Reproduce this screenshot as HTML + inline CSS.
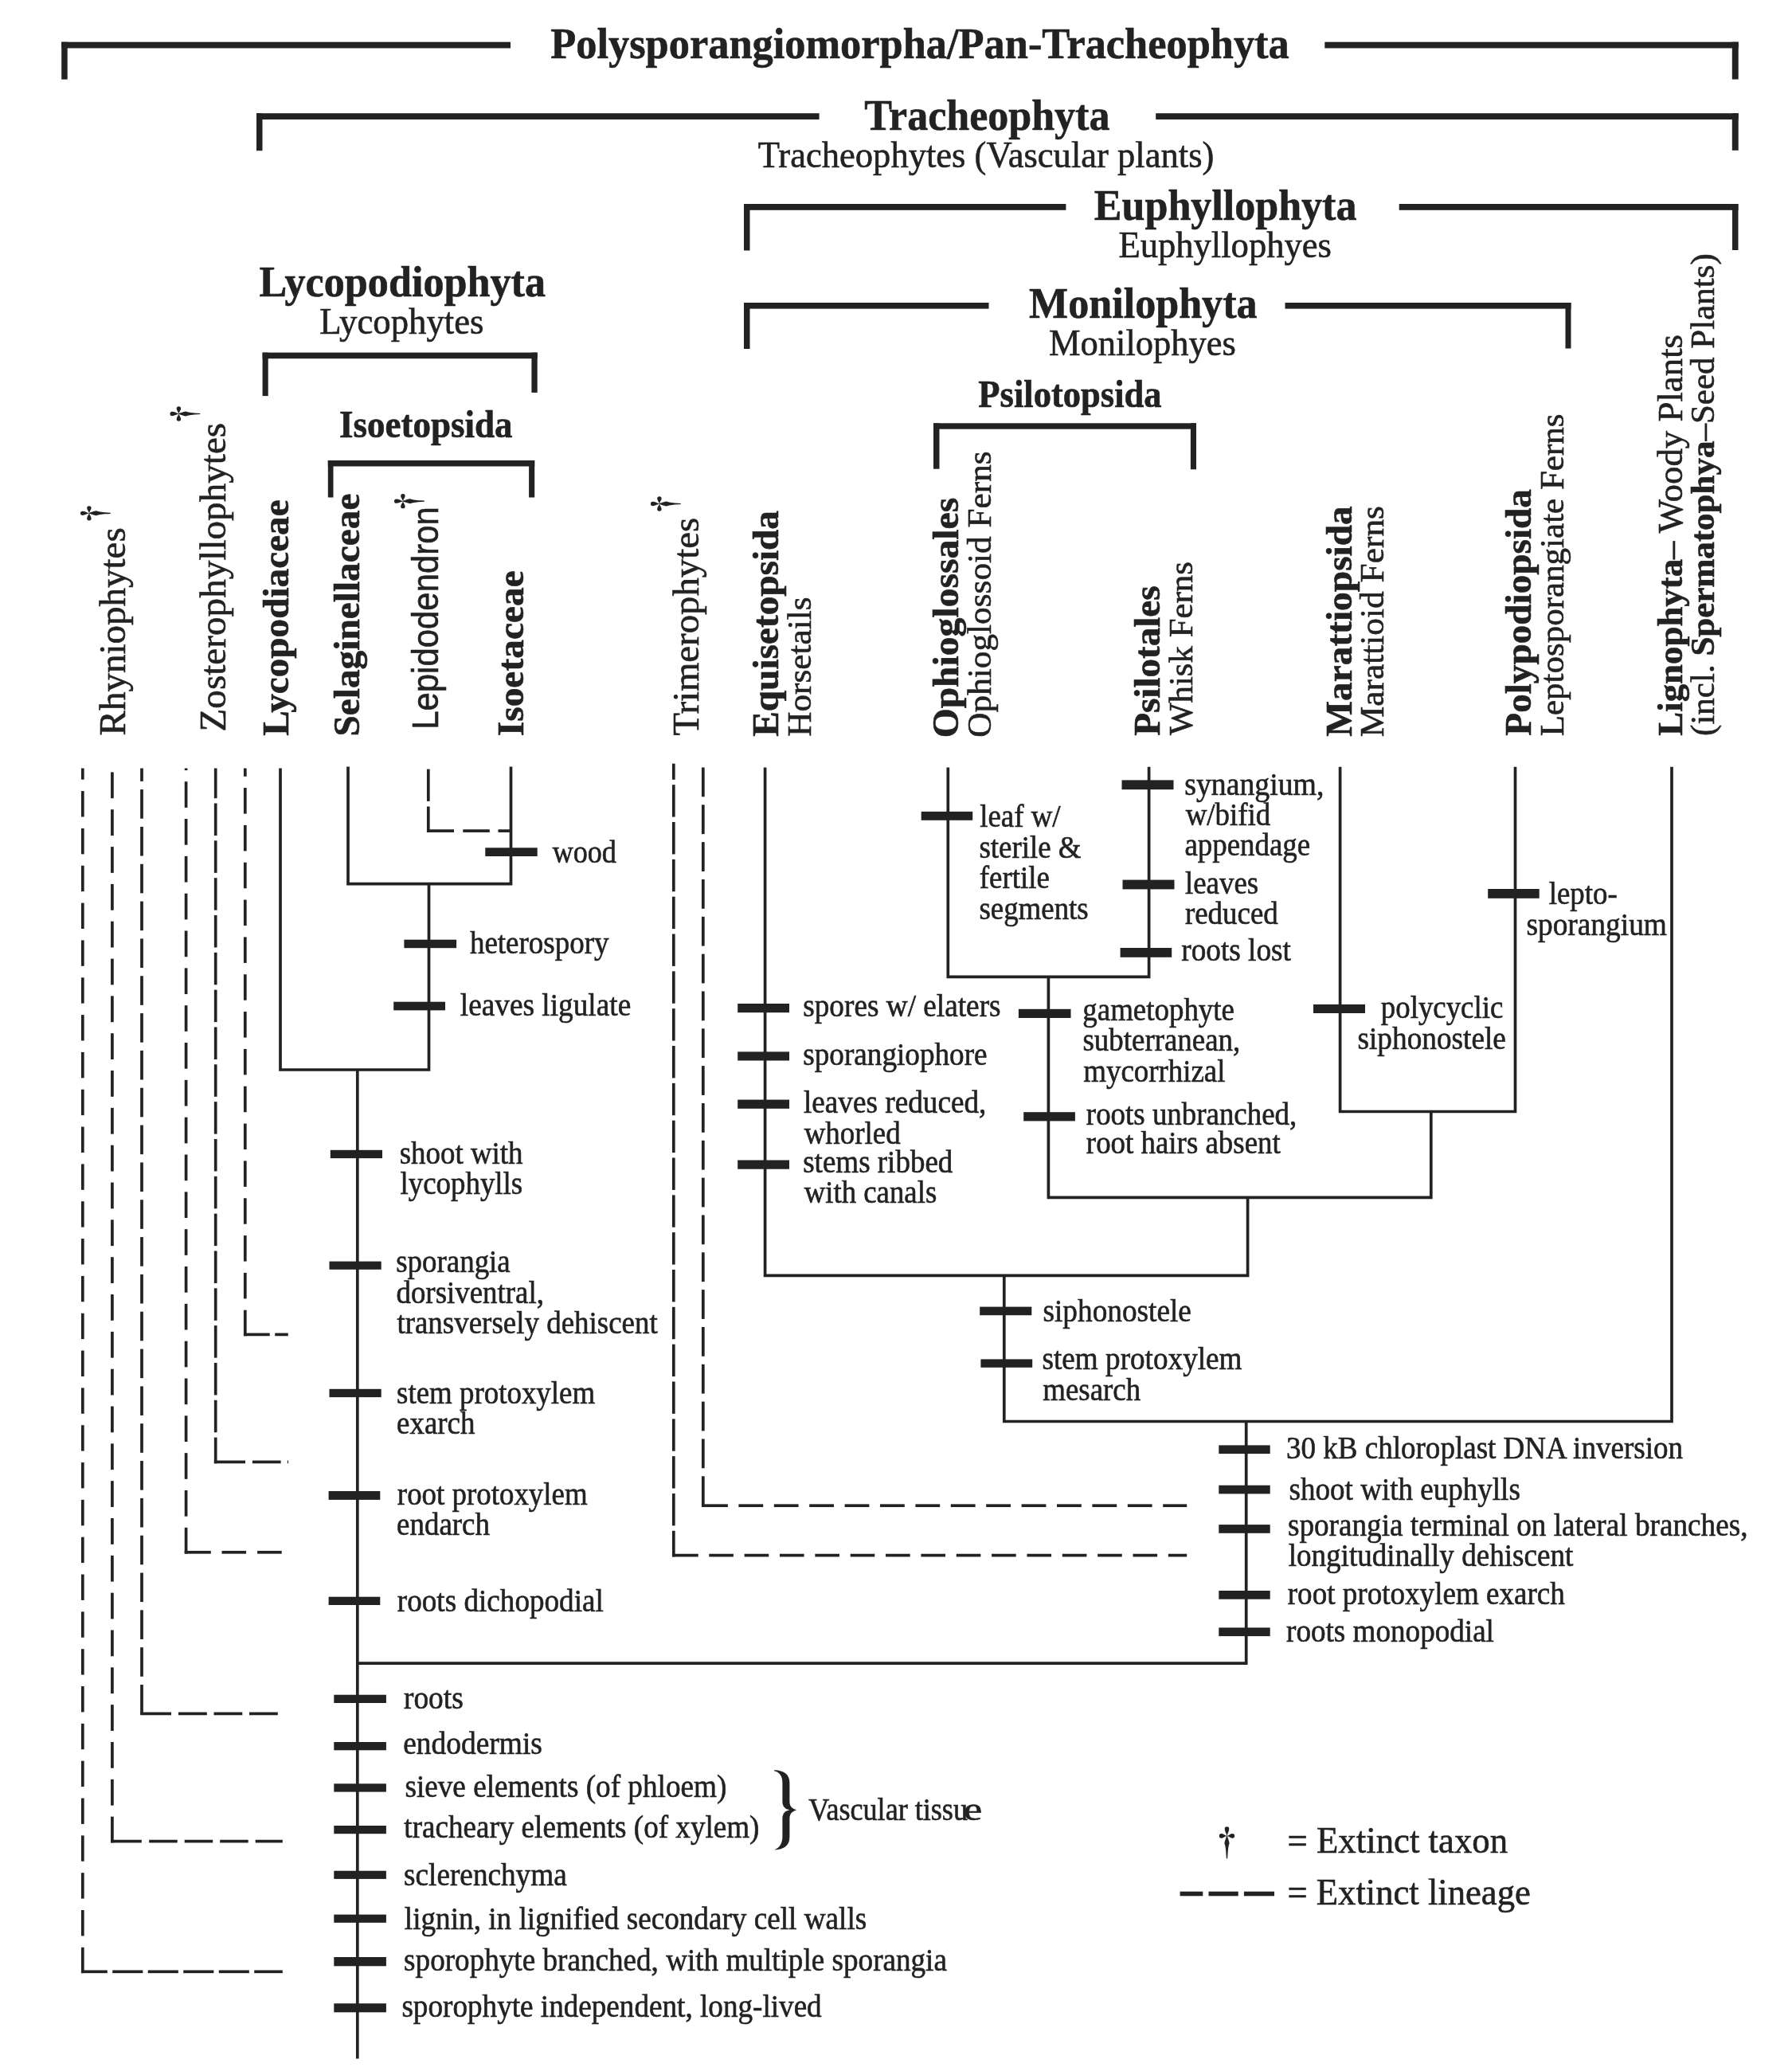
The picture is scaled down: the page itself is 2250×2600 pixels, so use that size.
<!DOCTYPE html>
<html><head><meta charset="utf-8"><title>Tracheophyte cladogram</title>
<style>
html,body{margin:0;padding:0;background:#fff;}
body{width:2250px;height:2600px;overflow:hidden;}
svg{display:block;filter:grayscale(1);}
text{font-family:"Liberation Serif",serif;fill:#222;stroke:#222;stroke-width:0.6px;}
</style></head><body>
<svg width="2250" height="2600" viewBox="0 0 2250 2600">
<defs><symbol id="dg" overflow="visible"><g><path d="M0,0 C-0.6,-2.5 -2.7,-5.5 -2.7,-8.5 A2.7,2.7 0 0 1 2.7,-8.5 C2.7,-5.5 0.6,-2.5 0,0 Z"/><path d="M0,0 C-2.5,-0.6 -4.5,-2.8 -6.6,-2.8 A2.8,2.8 0 0 0 -6.6,2.8 C-4.5,2.8 -2.5,0.6 0,0 Z"/><path d="M0,0 C2.5,-0.6 4.5,-2.8 6.6,-2.8 A2.8,2.8 0 0 1 6.6,2.8 C4.5,2.8 2.5,0.6 0,0 Z"/><path d="M-0.5,0 C-0.8,2 -2.6,6 -3.0,9 C-2.7,10.5 -2.2,11.5 -2.0,12.5 L-1.5,16 L-1.1,20 L-0.85,24 L-0.6,27.2 A0.6,0.6 0 0 0 0.6,27.2 L0.85,24 L1.1,20 L1.5,16 L2.0,12.5 C2.2,11.5 2.7,10.5 3.0,9 C2.6,6 0.8,2 0.5,0 Z"/></g></symbol></defs>
<rect width="2250" height="2600" fill="#fff"/>
<g fill="#222">
<rect x="77.2" y="52.7" width="7.5" height="47.0"/>
<rect x="2174.8" y="52.7" width="7.9" height="46.9"/>
<rect x="77.2" y="52.7" width="563.8" height="7.8"/>
<rect x="1663.3" y="52.7" width="519.4" height="7.8"/>
<text x="691.31" y="72.70" font-size="55.5" font-weight="bold" textLength="927.46" lengthAdjust="spacingAndGlyphs">Polysporangiomorpha/Pan-Tracheophyta</text>
<rect x="322.0" y="142.2" width="7.5" height="47.0"/>
<rect x="2174.8" y="142.2" width="7.9" height="46.6"/>
<rect x="322.0" y="142.2" width="706.6" height="7.8"/>
<rect x="1451.2" y="142.2" width="731.5" height="7.8"/>
<text x="1085.22" y="163.20" font-size="55.5" font-weight="bold" textLength="308.21" lengthAdjust="spacingAndGlyphs">Tracheophyta</text>
<text x="951.71" y="209.60" font-size="46.5" textLength="572.63" lengthAdjust="spacingAndGlyphs">Tracheophytes (Vascular plants)</text>
<rect x="934.0" y="256.0" width="7.5" height="58.5"/>
<rect x="2175.0" y="256.0" width="7.5" height="58.0"/>
<rect x="934.0" y="256.0" width="404.4" height="7.8"/>
<rect x="1756.7" y="256.0" width="425.8" height="7.8"/>
<text x="1373.82" y="275.90" font-size="55.5" font-weight="bold" textLength="329.64" lengthAdjust="spacingAndGlyphs">Euphyllophyta</text>
<text x="1404.46" y="322.80" font-size="46.5" textLength="267.47" lengthAdjust="spacingAndGlyphs">Euphyllophyes</text>
<rect x="934.0" y="380.0" width="7.5" height="58.0"/>
<rect x="1965.5" y="380.0" width="7.0" height="57.5"/>
<rect x="934.0" y="380.0" width="307.5" height="7.6"/>
<rect x="1613.5" y="380.0" width="359.0" height="7.6"/>
<text x="1292.12" y="399.10" font-size="55.5" font-weight="bold" textLength="286.41" lengthAdjust="spacingAndGlyphs">Monilophyta</text>
<text x="1316.96" y="446.40" font-size="46.5" textLength="234.89" lengthAdjust="spacingAndGlyphs">Monilophyes</text>
<text x="325.62" y="371.60" font-size="55.5" font-weight="bold" textLength="359.43" lengthAdjust="spacingAndGlyphs">Lycopodiophyta</text>
<text x="401.16" y="419.30" font-size="46.5" textLength="206.32" lengthAdjust="spacingAndGlyphs">Lycophytes</text>
<rect x="329.6" y="442.6" width="7.1" height="54.5"/>
<rect x="667.4" y="442.6" width="7.3" height="50.3"/>
<rect x="329.6" y="442.6" width="345.1" height="7.6"/>
<text x="426.03" y="548.60" font-size="47.5" font-weight="bold" textLength="217.42" lengthAdjust="spacingAndGlyphs">Isoetopsida</text>
<rect x="411.8" y="578.0" width="6.7" height="46.5"/>
<rect x="664.1" y="578.0" width="7.1" height="46.5"/>
<rect x="411.8" y="578.0" width="259.4" height="7.5"/>
<text x="1228.33" y="511.00" font-size="47.5" font-weight="bold" textLength="230.25" lengthAdjust="spacingAndGlyphs">Psilotopsida</text>
<rect x="1172.0" y="531.3" width="7.5" height="57.4"/>
<rect x="1494.9" y="531.3" width="7.1" height="58.0"/>
<rect x="1172.0" y="531.3" width="330.0" height="7.4"/>
<text x="-1.41" y="0" transform="translate(156.90,922.00) rotate(-90)" font-size="46.4" textLength="261.08" lengthAdjust="spacingAndGlyphs">Rhyniophytes</text>
<text x="-2.12" y="0" transform="translate(282.80,916.40) rotate(-90)" font-size="46.7" textLength="387.72" lengthAdjust="spacingAndGlyphs">Zosterophyllophytes</text>
<text x="-0.71" y="0" transform="translate(361.60,923.00) rotate(-90)" font-size="46.9" font-weight="bold" textLength="296.36" lengthAdjust="spacingAndGlyphs">Lycopodiaceae</text>
<text x="-2.60" y="0" transform="translate(450.90,922.00) rotate(-90)" font-size="46.8" font-weight="bold" textLength="305.08" lengthAdjust="spacingAndGlyphs">Selaginellaceae</text>
<text x="-3.35" y="0" transform="translate(549.60,912.50) rotate(-90)" font-size="47.0" style="font-family:'Liberation Sans',sans-serif" textLength="279.71" lengthAdjust="spacingAndGlyphs">Lepidodendron</text>
<text x="-1.66" y="0" transform="translate(657.10,922.60) rotate(-90)" font-size="46.8" font-weight="bold" textLength="207.99" lengthAdjust="spacingAndGlyphs">Isoetaceae</text>
<text x="-0.94" y="0" transform="translate(876.50,922.60) rotate(-90)" font-size="46.3" textLength="273.63" lengthAdjust="spacingAndGlyphs">Trimerophytes</text>
<text x="-0.71" y="0" transform="translate(976.70,924.00) rotate(-90)" font-size="47.0" font-weight="bold" textLength="283.70" lengthAdjust="spacingAndGlyphs">Equisetopsida</text>
<text x="-1.30" y="0" transform="translate(1017.50,923.50) rotate(-90)" font-size="42.5" textLength="175.29" lengthAdjust="spacingAndGlyphs">Horsetails</text>
<text x="-2.38" y="0" transform="translate(1202.80,924.00) rotate(-90)" font-size="47.0" font-weight="bold" textLength="301.56" lengthAdjust="spacingAndGlyphs">Ophioglossales</text>
<text x="-1.73" y="0" transform="translate(1244.10,924.00) rotate(-90)" font-size="42.9" textLength="359.39" lengthAdjust="spacingAndGlyphs">Ophioglossoid Ferns</text>
<text x="-0.71" y="0" transform="translate(1456.20,923.00) rotate(-90)" font-size="46.6" font-weight="bold" textLength="188.26" lengthAdjust="spacingAndGlyphs">Psilotales</text>
<text x="0.00" y="0" transform="translate(1496.70,923.00) rotate(-90)" font-size="42.6" textLength="217.91" lengthAdjust="spacingAndGlyphs">Whisk Ferns</text>
<text x="-0.71" y="0" transform="translate(1697.20,924.00) rotate(-90)" font-size="47.2" font-weight="bold" textLength="289.46" lengthAdjust="spacingAndGlyphs">Marattiopsida</text>
<text x="-1.30" y="0" transform="translate(1736.90,924.00) rotate(-90)" font-size="43.0" textLength="290.24" lengthAdjust="spacingAndGlyphs">Marattioid Ferns</text>
<text x="-0.71" y="0" transform="translate(1921.50,923.00) rotate(-90)" font-size="47.2" font-weight="bold" textLength="309.63" lengthAdjust="spacingAndGlyphs">Polypodiopsida</text>
<text x="-1.29" y="0" transform="translate(1962.70,923.00) rotate(-90)" font-size="42.9" textLength="404.75" lengthAdjust="spacingAndGlyphs">Leptosporangiate Ferns</text>
<text x="-0.67" y="0" transform="translate(2111.50,923.00) rotate(-90)" font-size="44.6" textLength="503.76" lengthAdjust="spacingAndGlyphs"><tspan font-weight="bold">Lignophyta</tspan>– Woody Plants</text>
<text x="-1.94" y="0" transform="translate(2151.70,922.00) rotate(-90)" font-size="42.7" textLength="605.73" lengthAdjust="spacingAndGlyphs">(incl. <tspan font-weight="bold">Spermatophya</tspan>–Seed Plants)</text>
<text x="693.70" y="1082.50" font-size="39.0" textLength="80.24" lengthAdjust="spacingAndGlyphs">wood</text>
<text x="589.93" y="1197.00" font-size="39.0" textLength="174.58" lengthAdjust="spacingAndGlyphs">heterospory</text>
<text x="577.85" y="1275.00" font-size="39.0" textLength="214.35" lengthAdjust="spacingAndGlyphs">leaves ligulate</text>
<text x="501.72" y="1461.10" font-size="39.0" textLength="154.79" lengthAdjust="spacingAndGlyphs">shoot with</text>
<text x="502.46" y="1499.45" font-size="39.0" textLength="153.74" lengthAdjust="spacingAndGlyphs">lycophylls</text>
<text x="497.27" y="1597.20" font-size="39.0" textLength="143.45" lengthAdjust="spacingAndGlyphs">sporangia</text>
<text x="497.46" y="1636.10" font-size="39.0" textLength="185.47" lengthAdjust="spacingAndGlyphs">dorsiventral,</text>
<text x="498.38" y="1674.00" font-size="39.0" textLength="327.41" lengthAdjust="spacingAndGlyphs">transversely dehiscent</text>
<text x="498.12" y="1762.40" font-size="39.0" textLength="249.03" lengthAdjust="spacingAndGlyphs">stem protoxylem</text>
<text x="498.12" y="1800.10" font-size="39.0" textLength="98.32" lengthAdjust="spacingAndGlyphs">exarch</text>
<text x="498.86" y="1889.40" font-size="39.0" textLength="238.79" lengthAdjust="spacingAndGlyphs">root protoxylem</text>
<text x="498.12" y="1927.30" font-size="39.0" textLength="116.77" lengthAdjust="spacingAndGlyphs">endarch</text>
<text x="498.86" y="2022.80" font-size="39.0" textLength="258.94" lengthAdjust="spacingAndGlyphs">roots dichopodial</text>
<text x="506.95" y="2145.30" font-size="39.0" textLength="74.76" lengthAdjust="spacingAndGlyphs">roots</text>
<text x="506.20" y="2202.00" font-size="39.0" textLength="174.73" lengthAdjust="spacingAndGlyphs">endodermis</text>
<text x="508.41" y="2255.60" font-size="39.0" textLength="403.96" lengthAdjust="spacingAndGlyphs">sieve elements (of phloem)</text>
<text x="507.33" y="2307.40" font-size="39.0" textLength="446.13" lengthAdjust="spacingAndGlyphs">tracheary elements (of xylem)</text>
<text x="507.11" y="2367.20" font-size="39.0" textLength="204.58" lengthAdjust="spacingAndGlyphs">sclerenchyma</text>
<text x="507.86" y="2422.10" font-size="39.0" textLength="580.34" lengthAdjust="spacingAndGlyphs">lignin, in lignified secondary cell walls</text>
<text x="507.11" y="2473.50" font-size="39.0" textLength="681.82" lengthAdjust="spacingAndGlyphs">sporophyte branched, with multiple sporangia</text>
<text x="504.41" y="2531.50" font-size="39.0" textLength="527.30" lengthAdjust="spacingAndGlyphs">sporophyte independent, long-lived</text>
<text x="1015.34" y="2284.70" font-size="39.0" textLength="199.67" lengthAdjust="spacingAndGlyphs">Vascular tissu</text>
<text x="1209.91" y="2284.70" font-size="39.0" textLength="23.15" lengthAdjust="spacingAndGlyphs">e</text>
<text x="1008.21" y="1276.20" font-size="39.0" textLength="248.37" lengthAdjust="spacingAndGlyphs">spores w/ elaters</text>
<text x="1008.21" y="1336.70" font-size="39.0" textLength="231.42" lengthAdjust="spacingAndGlyphs">sporangiophore</text>
<text x="1008.96" y="1396.95" font-size="39.0" textLength="229.39" lengthAdjust="spacingAndGlyphs">leaves reduced,</text>
<text x="1009.70" y="1435.80" font-size="39.0" textLength="120.92" lengthAdjust="spacingAndGlyphs">whorled</text>
<text x="1008.22" y="1471.95" font-size="39.0" textLength="188.14" lengthAdjust="spacingAndGlyphs">stems ribbed</text>
<text x="1009.70" y="1509.90" font-size="39.0" textLength="166.53" lengthAdjust="spacingAndGlyphs">with canals</text>
<text x="1230.16" y="1037.60" font-size="39.0" textLength="101.42" lengthAdjust="spacingAndGlyphs">leaf w/</text>
<text x="1229.42" y="1076.60" font-size="39.0" textLength="128.08" lengthAdjust="spacingAndGlyphs">sterile &amp;</text>
<text x="1229.79" y="1115.30" font-size="39.0" textLength="88.09" lengthAdjust="spacingAndGlyphs">fertile</text>
<text x="1229.42" y="1154.40" font-size="39.0" textLength="137.33" lengthAdjust="spacingAndGlyphs">segments</text>
<text x="1487.19" y="997.60" font-size="39.0" textLength="175.21" lengthAdjust="spacingAndGlyphs">synangium,</text>
<text x="1488.70" y="1035.60" font-size="39.0" textLength="106.59" lengthAdjust="spacingAndGlyphs">w/bifid</text>
<text x="1487.41" y="1073.50" font-size="39.0" textLength="157.76" lengthAdjust="spacingAndGlyphs">appendage</text>
<text x="1487.96" y="1122.30" font-size="39.0" textLength="92.19" lengthAdjust="spacingAndGlyphs">leaves</text>
<text x="1487.96" y="1160.30" font-size="39.0" textLength="116.77" lengthAdjust="spacingAndGlyphs">reduced</text>
<text x="1483.26" y="1206.30" font-size="39.0" textLength="137.61" lengthAdjust="spacingAndGlyphs">roots lost</text>
<text x="1359.34" y="1280.90" font-size="39.0" textLength="190.59" lengthAdjust="spacingAndGlyphs">gametophyte</text>
<text x="1359.52" y="1318.80" font-size="39.0" textLength="197.72" lengthAdjust="spacingAndGlyphs">subterranean,</text>
<text x="1360.26" y="1357.70" font-size="39.0" textLength="178.26" lengthAdjust="spacingAndGlyphs">mycorrhizal</text>
<text x="1363.86" y="1411.70" font-size="39.0" textLength="264.37" lengthAdjust="spacingAndGlyphs">roots unbranched,</text>
<text x="1363.86" y="1448.30" font-size="39.0" textLength="243.88" lengthAdjust="spacingAndGlyphs">root hairs absent</text>
<text x="1733.85" y="1278.40" font-size="39.0" textLength="153.46" lengthAdjust="spacingAndGlyphs">polycyclic</text>
<text x="1704.51" y="1316.70" font-size="39.0" textLength="186.37" lengthAdjust="spacingAndGlyphs">siphonostele</text>
<text x="1944.66" y="1135.10" font-size="39.0" textLength="86.07" lengthAdjust="spacingAndGlyphs">lepto-</text>
<text x="1916.40" y="1174.00" font-size="39.0" textLength="176.53" lengthAdjust="spacingAndGlyphs">sporangium</text>
<text x="1309.51" y="1658.80" font-size="39.0" textLength="186.37" lengthAdjust="spacingAndGlyphs">siphonostele</text>
<text x="1308.51" y="1718.90" font-size="39.0" textLength="251.00" lengthAdjust="spacingAndGlyphs">stem protoxylem</text>
<text x="1309.26" y="1758.00" font-size="39.0" textLength="122.85" lengthAdjust="spacingAndGlyphs">mesarch</text>
<text x="1614.93" y="1831.00" font-size="39.0" textLength="498.06" lengthAdjust="spacingAndGlyphs">30 kB chloroplast DNA inversion</text>
<text x="1618.62" y="1882.50" font-size="39.0" textLength="290.22" lengthAdjust="spacingAndGlyphs">shoot with euphylls</text>
<text x="1616.91" y="1928.10" font-size="39.0" textLength="577.55" lengthAdjust="spacingAndGlyphs">sporangia terminal on lateral branches,</text>
<text x="1617.66" y="1966.30" font-size="39.0" textLength="357.60" lengthAdjust="spacingAndGlyphs">longitudinally dehiscent</text>
<text x="1616.76" y="2014.00" font-size="39.0" textLength="348.12" lengthAdjust="spacingAndGlyphs">root protoxylem exarch</text>
<text x="1615.06" y="2061.30" font-size="39.0" textLength="260.88" lengthAdjust="spacingAndGlyphs">roots monopodial</text>
<text x="1616.51" y="2325.60" font-size="46.0" textLength="276.61" lengthAdjust="spacingAndGlyphs">= Extinct taxon</text>
<text x="1616.52" y="2390.60" font-size="46.0" textLength="305.31" lengthAdjust="spacingAndGlyphs">= Extinct lineage</text>
</g>
<g fill="none" stroke="#222" stroke-width="3.7" stroke-linejoin="miter" stroke-linecap="butt">
<path d="M352.0,964.6 L352.0,1343.0 L538.5,1343.0 L538.5,1109.6"/>
<path d="M437.0,962.4 L437.0,1109.6 L641.5,1109.6 L641.5,962.4"/>
<path d="M448.8,1343.0 L448.8,2584.4"/>
<path d="M448.8,2088.2 L1564.7,2088.2 L1564.7,1784.5"/>
<path d="M1260.8,1601.4 L1260.8,1784.5 L2099.0,1784.5 L2099.0,962.8"/>
<path d="M960.6,963.4 L960.6,1601.4 L1566.6,1601.4 L1566.6,1503.3"/>
<path d="M1316.4,1226.3 L1316.4,1503.3 L1796.8,1503.3 L1796.8,1395.5"/>
<path d="M1190.3,963.4 L1190.3,1226.3 L1442.6,1226.3 L1442.6,962.8"/>
<path d="M1682.6,962.8 L1682.6,1395.5 L1902.5,1395.5 L1902.5,962.8"/>
</g>
<g fill="#222">
<rect x="101.95" y="964.50" width="3.7" height="14.17"/>
<rect x="101.95" y="993.10" width="3.7" height="32.40"/>
<rect x="101.95" y="1039.93" width="3.7" height="32.40"/>
<rect x="101.95" y="1086.76" width="3.7" height="32.40"/>
<rect x="101.95" y="1133.59" width="3.7" height="32.40"/>
<rect x="101.95" y="1180.42" width="3.7" height="32.40"/>
<rect x="101.95" y="1227.25" width="3.7" height="32.40"/>
<rect x="101.95" y="1274.08" width="3.7" height="32.40"/>
<rect x="101.95" y="1320.91" width="3.7" height="32.40"/>
<rect x="101.95" y="1367.74" width="3.7" height="32.40"/>
<rect x="101.95" y="1414.57" width="3.7" height="32.40"/>
<rect x="101.95" y="1461.40" width="3.7" height="32.40"/>
<rect x="101.95" y="1508.23" width="3.7" height="32.40"/>
<rect x="101.95" y="1555.06" width="3.7" height="32.40"/>
<rect x="101.95" y="1601.89" width="3.7" height="32.40"/>
<rect x="101.95" y="1648.72" width="3.7" height="32.40"/>
<rect x="101.95" y="1695.55" width="3.7" height="32.40"/>
<rect x="101.95" y="1742.38" width="3.7" height="32.40"/>
<rect x="101.95" y="1789.21" width="3.7" height="32.40"/>
<rect x="101.95" y="1836.04" width="3.7" height="32.40"/>
<rect x="101.95" y="1882.87" width="3.7" height="32.40"/>
<rect x="101.95" y="1929.70" width="3.7" height="32.40"/>
<rect x="101.95" y="1976.53" width="3.7" height="32.40"/>
<rect x="101.95" y="2023.36" width="3.7" height="32.40"/>
<rect x="101.95" y="2070.19" width="3.7" height="32.40"/>
<rect x="101.95" y="2117.02" width="3.7" height="32.40"/>
<rect x="101.95" y="2163.85" width="3.7" height="32.40"/>
<rect x="101.95" y="2210.68" width="3.7" height="32.40"/>
<rect x="101.95" y="2257.51" width="3.7" height="32.40"/>
<rect x="101.95" y="2304.34" width="3.7" height="32.40"/>
<rect x="101.95" y="2351.17" width="3.7" height="32.40"/>
<rect x="101.95" y="2398.00" width="3.7" height="32.40"/>
<rect x="101.95" y="2444.83" width="3.7" height="32.32"/>
<rect x="101.95" y="2473.45" width="32.85" height="3.7"/>
<rect x="141.25" y="2473.45" width="38.10" height="3.7"/>
<rect x="185.75" y="2473.45" width="38.10" height="3.7"/>
<rect x="230.25" y="2473.45" width="38.10" height="3.7"/>
<rect x="274.75" y="2473.45" width="38.10" height="3.7"/>
<rect x="319.25" y="2473.45" width="35.55" height="3.7"/>
<rect x="139.05" y="969.40" width="3.7" height="32.80"/>
<rect x="139.05" y="1016.23" width="3.7" height="32.80"/>
<rect x="139.05" y="1063.06" width="3.7" height="32.80"/>
<rect x="139.05" y="1109.89" width="3.7" height="32.80"/>
<rect x="139.05" y="1156.72" width="3.7" height="32.80"/>
<rect x="139.05" y="1203.55" width="3.7" height="32.80"/>
<rect x="139.05" y="1250.38" width="3.7" height="32.80"/>
<rect x="139.05" y="1297.21" width="3.7" height="32.80"/>
<rect x="139.05" y="1344.04" width="3.7" height="32.80"/>
<rect x="139.05" y="1390.87" width="3.7" height="32.80"/>
<rect x="139.05" y="1437.70" width="3.7" height="32.80"/>
<rect x="139.05" y="1484.53" width="3.7" height="32.80"/>
<rect x="139.05" y="1531.36" width="3.7" height="32.80"/>
<rect x="139.05" y="1578.19" width="3.7" height="32.80"/>
<rect x="139.05" y="1625.02" width="3.7" height="32.80"/>
<rect x="139.05" y="1671.85" width="3.7" height="32.80"/>
<rect x="139.05" y="1718.68" width="3.7" height="32.80"/>
<rect x="139.05" y="1765.51" width="3.7" height="32.80"/>
<rect x="139.05" y="1812.34" width="3.7" height="32.80"/>
<rect x="139.05" y="1859.17" width="3.7" height="32.80"/>
<rect x="139.05" y="1906.00" width="3.7" height="32.80"/>
<rect x="139.05" y="1952.83" width="3.7" height="32.80"/>
<rect x="139.05" y="1999.66" width="3.7" height="32.80"/>
<rect x="139.05" y="2046.49" width="3.7" height="32.80"/>
<rect x="139.05" y="2093.32" width="3.7" height="32.80"/>
<rect x="139.05" y="2140.15" width="3.7" height="32.80"/>
<rect x="139.05" y="2186.98" width="3.7" height="32.80"/>
<rect x="139.05" y="2233.81" width="3.7" height="32.80"/>
<rect x="139.05" y="2280.64" width="3.7" height="32.80"/>
<rect x="139.05" y="2309.75" width="38.75" height="3.7"/>
<rect x="187.20" y="2309.75" width="35.50" height="3.7"/>
<rect x="231.70" y="2309.75" width="35.50" height="3.7"/>
<rect x="276.20" y="2309.75" width="35.50" height="3.7"/>
<rect x="320.70" y="2309.75" width="34.10" height="3.7"/>
<rect x="176.15" y="964.50" width="3.7" height="16.37"/>
<rect x="176.15" y="991.10" width="3.7" height="36.60"/>
<rect x="176.15" y="1037.93" width="3.7" height="36.60"/>
<rect x="176.15" y="1084.76" width="3.7" height="36.60"/>
<rect x="176.15" y="1131.59" width="3.7" height="36.60"/>
<rect x="176.15" y="1178.42" width="3.7" height="36.60"/>
<rect x="176.15" y="1225.25" width="3.7" height="36.60"/>
<rect x="176.15" y="1272.08" width="3.7" height="36.60"/>
<rect x="176.15" y="1318.91" width="3.7" height="36.60"/>
<rect x="176.15" y="1365.74" width="3.7" height="36.60"/>
<rect x="176.15" y="1412.57" width="3.7" height="36.60"/>
<rect x="176.15" y="1459.40" width="3.7" height="36.60"/>
<rect x="176.15" y="1506.23" width="3.7" height="36.60"/>
<rect x="176.15" y="1553.06" width="3.7" height="36.60"/>
<rect x="176.15" y="1599.89" width="3.7" height="36.60"/>
<rect x="176.15" y="1646.72" width="3.7" height="36.60"/>
<rect x="176.15" y="1693.55" width="3.7" height="36.60"/>
<rect x="176.15" y="1740.38" width="3.7" height="36.60"/>
<rect x="176.15" y="1787.21" width="3.7" height="36.60"/>
<rect x="176.15" y="1834.04" width="3.7" height="36.60"/>
<rect x="176.15" y="1880.87" width="3.7" height="36.60"/>
<rect x="176.15" y="1927.70" width="3.7" height="36.60"/>
<rect x="176.15" y="1974.53" width="3.7" height="36.60"/>
<rect x="176.15" y="2021.36" width="3.7" height="36.60"/>
<rect x="176.15" y="2068.19" width="3.7" height="36.60"/>
<rect x="176.15" y="2115.02" width="3.7" height="36.60"/>
<rect x="176.15" y="2149.55" width="38.85" height="3.7"/>
<rect x="224.00" y="2149.55" width="35.80" height="3.7"/>
<rect x="268.50" y="2149.55" width="35.80" height="3.7"/>
<rect x="313.00" y="2149.55" width="35.80" height="3.7"/>
<rect x="231.75" y="964.50" width="3.7" height="2.57"/>
<rect x="231.75" y="981.20" width="3.7" height="32.70"/>
<rect x="231.75" y="1028.03" width="3.7" height="32.70"/>
<rect x="231.75" y="1074.86" width="3.7" height="32.70"/>
<rect x="231.75" y="1121.69" width="3.7" height="32.70"/>
<rect x="231.75" y="1168.52" width="3.7" height="32.70"/>
<rect x="231.75" y="1215.35" width="3.7" height="32.70"/>
<rect x="231.75" y="1262.18" width="3.7" height="32.70"/>
<rect x="231.75" y="1309.01" width="3.7" height="32.70"/>
<rect x="231.75" y="1355.84" width="3.7" height="32.70"/>
<rect x="231.75" y="1402.67" width="3.7" height="32.70"/>
<rect x="231.75" y="1449.50" width="3.7" height="32.70"/>
<rect x="231.75" y="1496.33" width="3.7" height="32.70"/>
<rect x="231.75" y="1543.16" width="3.7" height="32.70"/>
<rect x="231.75" y="1589.99" width="3.7" height="32.70"/>
<rect x="231.75" y="1636.82" width="3.7" height="32.70"/>
<rect x="231.75" y="1683.65" width="3.7" height="32.70"/>
<rect x="231.75" y="1730.48" width="3.7" height="32.70"/>
<rect x="231.75" y="1777.31" width="3.7" height="32.70"/>
<rect x="231.75" y="1824.14" width="3.7" height="32.70"/>
<rect x="231.75" y="1870.97" width="3.7" height="32.70"/>
<rect x="231.75" y="1917.80" width="3.7" height="32.70"/>
<rect x="231.75" y="1946.95" width="33.05" height="3.7"/>
<rect x="278.50" y="1946.95" width="30.60" height="3.7"/>
<rect x="323.10" y="1946.95" width="30.60" height="3.7"/>
<rect x="268.85" y="964.50" width="3.7" height="37.67"/>
<rect x="268.85" y="1008.50" width="3.7" height="40.50"/>
<rect x="268.85" y="1055.33" width="3.7" height="40.50"/>
<rect x="268.85" y="1102.16" width="3.7" height="40.50"/>
<rect x="268.85" y="1148.99" width="3.7" height="40.50"/>
<rect x="268.85" y="1195.82" width="3.7" height="40.50"/>
<rect x="268.85" y="1242.65" width="3.7" height="40.50"/>
<rect x="268.85" y="1289.48" width="3.7" height="40.50"/>
<rect x="268.85" y="1336.31" width="3.7" height="40.50"/>
<rect x="268.85" y="1383.14" width="3.7" height="40.50"/>
<rect x="268.85" y="1429.97" width="3.7" height="40.50"/>
<rect x="268.85" y="1476.80" width="3.7" height="40.50"/>
<rect x="268.85" y="1523.63" width="3.7" height="40.50"/>
<rect x="268.85" y="1570.46" width="3.7" height="40.50"/>
<rect x="268.85" y="1617.29" width="3.7" height="40.50"/>
<rect x="268.85" y="1664.12" width="3.7" height="40.50"/>
<rect x="268.85" y="1710.95" width="3.7" height="40.50"/>
<rect x="268.85" y="1757.78" width="3.7" height="40.50"/>
<rect x="268.85" y="1804.61" width="3.7" height="32.64"/>
<rect x="268.85" y="1833.55" width="39.15" height="3.7"/>
<rect x="316.90" y="1833.55" width="35.70" height="3.7"/>
<rect x="360.90" y="1833.55" width="1.10" height="3.7"/>
<rect x="305.95" y="964.50" width="3.7" height="10.27"/>
<rect x="305.95" y="989.10" width="3.7" height="32.50"/>
<rect x="305.95" y="1035.93" width="3.7" height="32.50"/>
<rect x="305.95" y="1082.76" width="3.7" height="32.50"/>
<rect x="305.95" y="1129.59" width="3.7" height="32.50"/>
<rect x="305.95" y="1176.42" width="3.7" height="32.50"/>
<rect x="305.95" y="1223.25" width="3.7" height="32.50"/>
<rect x="305.95" y="1270.08" width="3.7" height="32.50"/>
<rect x="305.95" y="1316.91" width="3.7" height="32.50"/>
<rect x="305.95" y="1363.74" width="3.7" height="32.50"/>
<rect x="305.95" y="1410.57" width="3.7" height="32.50"/>
<rect x="305.95" y="1457.40" width="3.7" height="32.50"/>
<rect x="305.95" y="1504.23" width="3.7" height="32.50"/>
<rect x="305.95" y="1551.06" width="3.7" height="32.50"/>
<rect x="305.95" y="1597.89" width="3.7" height="32.50"/>
<rect x="305.95" y="1644.72" width="3.7" height="32.50"/>
<rect x="305.95" y="1673.55" width="32.75" height="3.7"/>
<rect x="345.25" y="1673.55" width="16.50" height="3.7"/>
<rect x="843.95" y="958.70" width="3.7" height="20.07"/>
<rect x="843.95" y="985.20" width="3.7" height="40.40"/>
<rect x="843.95" y="1032.03" width="3.7" height="40.40"/>
<rect x="843.95" y="1078.86" width="3.7" height="40.40"/>
<rect x="843.95" y="1125.69" width="3.7" height="40.40"/>
<rect x="843.95" y="1172.52" width="3.7" height="40.40"/>
<rect x="843.95" y="1219.35" width="3.7" height="40.40"/>
<rect x="843.95" y="1266.18" width="3.7" height="40.40"/>
<rect x="843.95" y="1313.01" width="3.7" height="40.40"/>
<rect x="843.95" y="1359.84" width="3.7" height="40.40"/>
<rect x="843.95" y="1406.67" width="3.7" height="40.40"/>
<rect x="843.95" y="1453.50" width="3.7" height="40.40"/>
<rect x="843.95" y="1500.33" width="3.7" height="40.40"/>
<rect x="843.95" y="1547.16" width="3.7" height="40.40"/>
<rect x="843.95" y="1593.99" width="3.7" height="40.40"/>
<rect x="843.95" y="1640.82" width="3.7" height="40.40"/>
<rect x="843.95" y="1687.65" width="3.7" height="40.40"/>
<rect x="843.95" y="1734.48" width="3.7" height="40.40"/>
<rect x="843.95" y="1781.31" width="3.7" height="40.40"/>
<rect x="843.95" y="1828.14" width="3.7" height="40.40"/>
<rect x="843.95" y="1874.97" width="3.7" height="40.40"/>
<rect x="843.95" y="1921.80" width="3.7" height="32.65"/>
<rect x="843.95" y="1950.75" width="32.75" height="3.7"/>
<rect x="890.30" y="1950.75" width="30.60" height="3.7"/>
<rect x="934.65" y="1950.75" width="30.60" height="3.7"/>
<rect x="979.00" y="1950.75" width="30.60" height="3.7"/>
<rect x="1023.35" y="1950.75" width="30.60" height="3.7"/>
<rect x="1067.70" y="1950.75" width="30.60" height="3.7"/>
<rect x="1112.05" y="1950.75" width="30.60" height="3.7"/>
<rect x="1156.40" y="1950.75" width="30.60" height="3.7"/>
<rect x="1200.75" y="1950.75" width="30.60" height="3.7"/>
<rect x="1245.10" y="1950.75" width="30.60" height="3.7"/>
<rect x="1289.45" y="1950.75" width="30.60" height="3.7"/>
<rect x="1333.80" y="1950.75" width="30.60" height="3.7"/>
<rect x="1378.15" y="1950.75" width="30.60" height="3.7"/>
<rect x="1422.50" y="1950.75" width="30.60" height="3.7"/>
<rect x="1466.85" y="1950.75" width="23.35" height="3.7"/>
<rect x="880.95" y="963.50" width="3.7" height="36.80"/>
<rect x="880.95" y="1010.33" width="3.7" height="36.80"/>
<rect x="880.95" y="1057.16" width="3.7" height="36.80"/>
<rect x="880.95" y="1103.99" width="3.7" height="36.80"/>
<rect x="880.95" y="1150.82" width="3.7" height="36.80"/>
<rect x="880.95" y="1197.65" width="3.7" height="36.80"/>
<rect x="880.95" y="1244.48" width="3.7" height="36.80"/>
<rect x="880.95" y="1291.31" width="3.7" height="36.80"/>
<rect x="880.95" y="1338.14" width="3.7" height="36.80"/>
<rect x="880.95" y="1384.97" width="3.7" height="36.80"/>
<rect x="880.95" y="1431.80" width="3.7" height="36.80"/>
<rect x="880.95" y="1478.63" width="3.7" height="36.80"/>
<rect x="880.95" y="1525.46" width="3.7" height="36.80"/>
<rect x="880.95" y="1572.29" width="3.7" height="36.80"/>
<rect x="880.95" y="1619.12" width="3.7" height="36.80"/>
<rect x="880.95" y="1665.95" width="3.7" height="36.80"/>
<rect x="880.95" y="1712.78" width="3.7" height="36.80"/>
<rect x="880.95" y="1759.61" width="3.7" height="36.80"/>
<rect x="880.95" y="1806.44" width="3.7" height="36.80"/>
<rect x="880.95" y="1853.27" width="3.7" height="36.80"/>
<rect x="880.95" y="1888.35" width="32.95" height="3.7"/>
<rect x="927.40" y="1888.35" width="30.80" height="3.7"/>
<rect x="971.80" y="1888.35" width="30.80" height="3.7"/>
<rect x="1016.20" y="1888.35" width="30.80" height="3.7"/>
<rect x="1060.60" y="1888.35" width="30.80" height="3.7"/>
<rect x="1105.00" y="1888.35" width="30.80" height="3.7"/>
<rect x="1149.40" y="1888.35" width="30.80" height="3.7"/>
<rect x="1193.80" y="1888.35" width="30.80" height="3.7"/>
<rect x="1238.20" y="1888.35" width="30.80" height="3.7"/>
<rect x="1282.60" y="1888.35" width="30.80" height="3.7"/>
<rect x="1327.00" y="1888.35" width="30.80" height="3.7"/>
<rect x="1371.40" y="1888.35" width="30.80" height="3.7"/>
<rect x="1415.80" y="1888.35" width="30.80" height="3.7"/>
<rect x="1460.20" y="1888.35" width="30.00" height="3.7"/>
<rect x="535.95" y="965.60" width="3.7" height="40.30"/>
<rect x="535.95" y="1012.50" width="3.7" height="32.45"/>
<rect x="535.95" y="1041.25" width="34.05" height="3.7"/>
<rect x="581.30" y="1041.25" width="33.50" height="3.7"/>
<rect x="625.50" y="1041.25" width="15.80" height="3.7"/>
<rect x="609.3" y="1064.3" width="65.4" height="10.7"/>
<rect x="507.4" y="1179.7" width="65.7" height="10.5"/>
<rect x="494.2" y="1257.7" width="64.8" height="10.7"/>
<rect x="414.8" y="1443.8" width="65.2" height="10.3"/>
<rect x="413.5" y="1583.6" width="65.2" height="10.2"/>
<rect x="413.5" y="1743.8" width="65.2" height="10.3"/>
<rect x="412.6" y="1872.0" width="64.7" height="10.9"/>
<rect x="412.6" y="2004.7" width="64.7" height="10.3"/>
<rect x="419.3" y="2127.7" width="65.6" height="10.3"/>
<rect x="419.3" y="2187.0" width="65.6" height="10.3"/>
<rect x="419.3" y="2239.3" width="65.6" height="10.3"/>
<rect x="419.3" y="2292.0" width="65.6" height="10.2"/>
<rect x="419.3" y="2348.7" width="65.6" height="10.2"/>
<rect x="419.3" y="2403.6" width="65.6" height="10.2"/>
<rect x="419.3" y="2457.0" width="65.6" height="11.3"/>
<rect x="419.3" y="2515.2" width="65.6" height="11.1"/>
<rect x="926.2" y="1260.0" width="64.8" height="11.2"/>
<rect x="926.2" y="1320.4" width="64.8" height="11.1"/>
<rect x="926.2" y="1380.6" width="64.8" height="11.2"/>
<rect x="926.2" y="1456.5" width="64.8" height="11.2"/>
<rect x="1156.7" y="1018.9" width="64.5" height="10.9"/>
<rect x="1408.5" y="979.4" width="65.0" height="11.8"/>
<rect x="1409.5" y="1104.6" width="65.0" height="11.8"/>
<rect x="1406.6" y="1190.0" width="64.6" height="11.8"/>
<rect x="1278.9" y="1266.8" width="65.6" height="11.2"/>
<rect x="1285.2" y="1396.2" width="64.7" height="11.2"/>
<rect x="1649.0" y="1261.0" width="65.0" height="11.0"/>
<rect x="1868.2" y="1116.0" width="64.5" height="11.8"/>
<rect x="1230.2" y="1640.6" width="65.1" height="10.6"/>
<rect x="1231.4" y="1706.4" width="64.8" height="10.4"/>
<rect x="1530.3" y="1814.4" width="64.4" height="10.7"/>
<rect x="1530.3" y="1864.7" width="64.4" height="10.7"/>
<rect x="1530.3" y="1914.1" width="64.4" height="10.7"/>
<rect x="1530.3" y="1997.0" width="64.4" height="10.7"/>
<rect x="1530.3" y="2043.4" width="64.4" height="10.7"/>
<rect x="1481.6" y="2374.7" width="28.7" height="5.6"/>
<rect x="1517.5" y="2374.7" width="37.2" height="5.6"/>
<rect x="1561.9" y="2374.7" width="38.1" height="5.6"/>
<path d="M972,2222.2 C985,2222.5 991.4,2228 991.4,2238 L991.4,2262 C991.4,2268 995,2271 1000.7,2272.3 C995,2273.6 991.4,2277 991.4,2283 L991.4,2306 C991.4,2316.5 985,2322 972,2322.4 C979,2320 982.4,2314 982.4,2306 L982.4,2283 C982.4,2276.5 986,2273.2 991.7,2272.3 C986,2271.5 982.4,2268 982.4,2262 L982.4,2238 C982.4,2230 979,2224.5 972,2223.2 Z"/>
</g>
<g fill="#222">
<use href="#dg" transform="translate(111.9,644.3) rotate(-90) scale(0.975)"/>
<use href="#dg" transform="translate(224.4,519.5) rotate(-90) scale(0.975)"/>
<use href="#dg" transform="translate(505.9,629.2) rotate(-90) scale(0.975)"/>
<use href="#dg" transform="translate(827.9,632.5) rotate(-90) scale(0.975)"/>
<use href="#dg" transform="translate(1540.5,2304.8) rotate(0) scale(1.03)"/>
</g>
</svg>
</body></html>
